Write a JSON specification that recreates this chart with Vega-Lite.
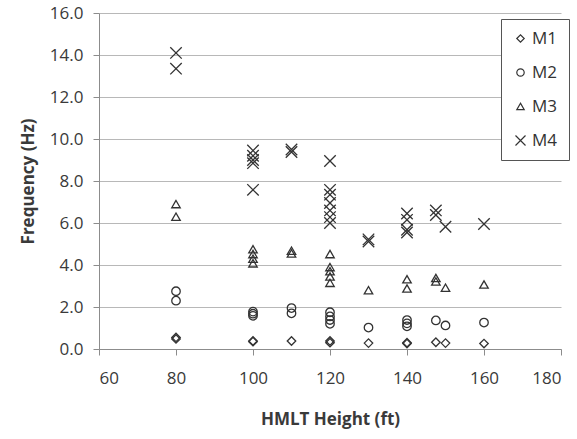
{
  "$schema": "https://vega.github.io/schema/vega-lite/v6.json",
  "width": 462,
  "height": 336,
  "autosize": {"type": "none"},
  "padding": {"left": 99, "top": 13, "right": 16, "bottom": 90},
  "background": "white",
  "config": {
    "view": {"stroke": null},
    "font": "Open Sans",
    "axis": {
      "labelFont": "Open Sans", "titleFont": "Open Sans", "labelColor": "#3a3a3a", "titleColor": "#3a3a3a",
      "labelFontSize": 17, "titleFontSize": 17, "titleFontWeight": "bold",
      "domainColor": "#8c8c8c", "tickColor": "#8c8c8c", "gridColor": "#b8b8b8",
      "tickSize": 6
    }
  },
  "data": {"values": [
    {"h": 80, "f": 14.1, "mode": "M4"}, {"h": 80, "f": 13.35, "mode": "M4"},
    {"h": 80, "f": 6.9, "mode": "M3"}, {"h": 80, "f": 6.3, "mode": "M3"},
    {"h": 80, "f": 2.75, "mode": "M2"}, {"h": 80, "f": 2.3, "mode": "M2"},
    {"h": 80, "f": 0.55, "mode": "M1"}, {"h": 80, "f": 0.48, "mode": "M1"},
    {"h": 100, "f": 9.45, "mode": "M4"}, {"h": 100, "f": 9.2, "mode": "M4"}, {"h": 100, "f": 9.0, "mode": "M4"}, {"h": 100, "f": 8.85, "mode": "M4"}, {"h": 100, "f": 7.58, "mode": "M4"},
    {"h": 100, "f": 4.75, "mode": "M3"}, {"h": 100, "f": 4.52, "mode": "M3"}, {"h": 100, "f": 4.3, "mode": "M3"}, {"h": 100, "f": 4.08, "mode": "M3"},
    {"h": 100, "f": 1.78, "mode": "M2"}, {"h": 100, "f": 1.68, "mode": "M2"}, {"h": 100, "f": 1.58, "mode": "M2"},
    {"h": 100, "f": 0.38, "mode": "M1"}, {"h": 100, "f": 0.35, "mode": "M1"},
    {"h": 110, "f": 9.5, "mode": "M4"}, {"h": 110, "f": 9.38, "mode": "M4"},
    {"h": 110, "f": 4.68, "mode": "M3"}, {"h": 110, "f": 4.55, "mode": "M3"},
    {"h": 110, "f": 1.95, "mode": "M2"}, {"h": 110, "f": 1.7, "mode": "M2"},
    {"h": 110, "f": 0.38, "mode": "M1"},
    {"h": 120, "f": 8.95, "mode": "M4"}, {"h": 120, "f": 7.58, "mode": "M4"}, {"h": 120, "f": 7.35, "mode": "M4"}, {"h": 120, "f": 6.95, "mode": "M4"}, {"h": 120, "f": 6.6, "mode": "M4"}, {"h": 120, "f": 6.28, "mode": "M4"}, {"h": 120, "f": 6.0, "mode": "M4"},
    {"h": 120, "f": 4.52, "mode": "M3"}, {"h": 120, "f": 3.9, "mode": "M3"}, {"h": 120, "f": 3.7, "mode": "M3"}, {"h": 120, "f": 3.45, "mode": "M3"}, {"h": 120, "f": 3.15, "mode": "M3"},
    {"h": 120, "f": 1.75, "mode": "M2"}, {"h": 120, "f": 1.55, "mode": "M2"}, {"h": 120, "f": 1.38, "mode": "M2"}, {"h": 120, "f": 1.2, "mode": "M2"},
    {"h": 120, "f": 0.38, "mode": "M1"}, {"h": 120, "f": 0.3, "mode": "M1"},
    {"h": 130, "f": 5.22, "mode": "M4"}, {"h": 130, "f": 5.12, "mode": "M4"},
    {"h": 130, "f": 2.8, "mode": "M3"},
    {"h": 130, "f": 1.02, "mode": "M2"},
    {"h": 130, "f": 0.28, "mode": "M1"},
    {"h": 140, "f": 6.45, "mode": "M4"}, {"h": 140, "f": 6.15, "mode": "M4"}, {"h": 140, "f": 5.68, "mode": "M4"}, {"h": 140, "f": 5.55, "mode": "M4"},
    {"h": 140, "f": 3.32, "mode": "M3"}, {"h": 140, "f": 2.88, "mode": "M3"},
    {"h": 140, "f": 1.38, "mode": "M2"}, {"h": 140, "f": 1.22, "mode": "M2"}, {"h": 140, "f": 1.08, "mode": "M2"},
    {"h": 140, "f": 0.3, "mode": "M1"}, {"h": 140, "f": 0.26, "mode": "M1"},
    {"h": 147.5, "f": 6.6, "mode": "M4"}, {"h": 147.5, "f": 6.38, "mode": "M4"},
    {"h": 147.5, "f": 3.38, "mode": "M3"}, {"h": 147.5, "f": 3.22, "mode": "M3"},
    {"h": 147.5, "f": 1.36, "mode": "M2"},
    {"h": 147.5, "f": 0.32, "mode": "M1"},
    {"h": 150, "f": 5.82, "mode": "M4"},
    {"h": 150, "f": 2.92, "mode": "M3"},
    {"h": 150, "f": 1.12, "mode": "M2"},
    {"h": 150, "f": 0.28, "mode": "M1"},
    {"h": 160, "f": 5.95, "mode": "M4"},
    {"h": 160, "f": 3.07, "mode": "M3"},
    {"h": 160, "f": 1.26, "mode": "M2"},
    {"h": 160, "f": 0.26, "mode": "M1"}
  ]},
  "mark": {"type": "point", "filled": false, "color": "#333333", "strokeWidth": 1.3, "size": 72, "opacity": 1},
  "encoding": {
    "x": {"field": "h", "type": "quantitative",
      "scale": {"domain": [60, 180], "nice": false, "zero": false},
      "axis": {"values": [60, 80, 100, 120, 140, 160, 180], "grid": false, "title": "HMLT Height (ft)", "labelPadding": 15, "titlePadding": 25}},
    "y": {"field": "f", "type": "quantitative",
      "scale": {"domain": [0, 16], "nice": false},
      "axis": {"values": [0, 2, 4, 6, 8, 10, 12, 14, 16], "format": ".1f", "title": "Frequency (Hz)", "labelPadding": 10, "titlePadding": 12, "grid": true, "domain": true}},
    "shape": {"field": "mode", "type": "nominal",
      "scale": {"domain": ["M1", "M2", "M3", "M4"], "range": ["diamond", "circle", "triangle-up", "M-1.35,-1.35L1.35,1.35M-1.35,1.35L1.35,-1.35"]},
      "legend": {"title": null, "orient": "none", "legendX": 402, "legendY": 6,
        "strokeColor": "#555", "fillColor": "white", "padding": 11,
        "rowPadding": 16, "labelFontSize": 17, "labelFont": "Open Sans", "labelColor": "#333",
        "symbolSize": 55, "symbolStrokeColor": "#333333", "symbolStrokeWidth": 1.2, "labelOffset": 3}}
  }
}
